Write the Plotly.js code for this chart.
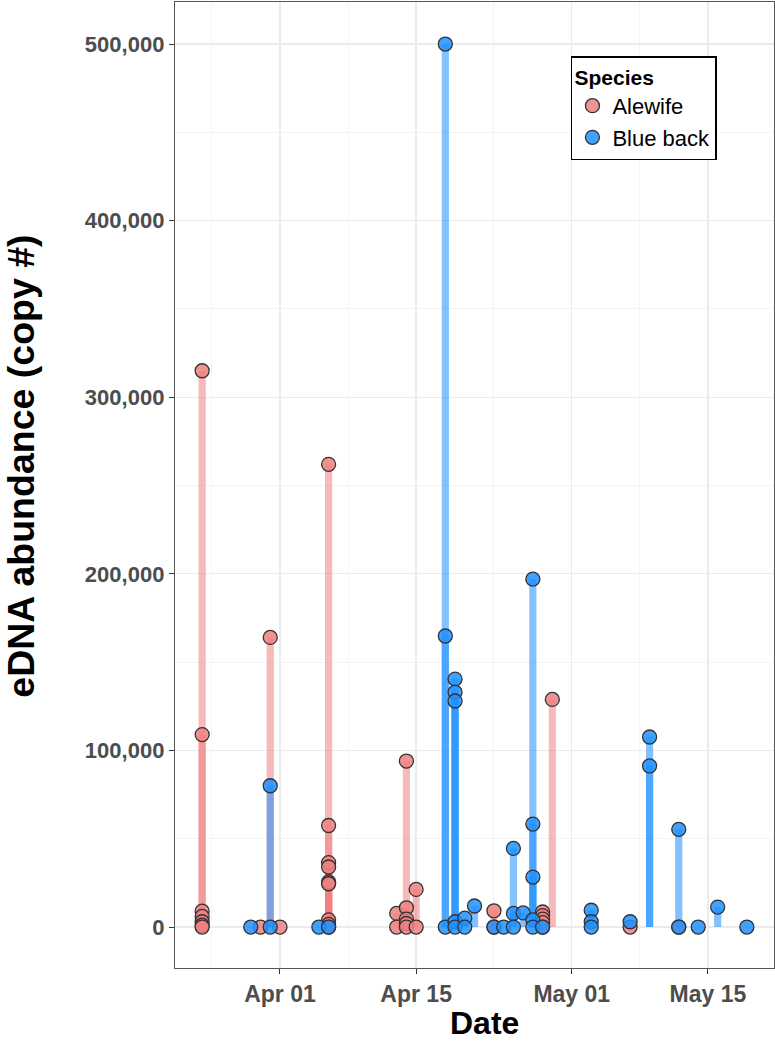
<!DOCTYPE html>
<html>
<head>
<meta charset="utf-8">
<script src="https://cdn.plot.ly/plotly-3.0.1.min.js"></script>
<style>html,body{margin:0;padding:0;background:#fff;}#chart{width:775px;height:1042px;}</style>
</head>
<body>
<div id="chart"></div>
<script>
// ---- data ----
const alewifeDates = [
  '2017-03-24','2017-03-24','2017-03-24','2017-03-24','2017-03-24','2017-03-24','2017-03-24',
  '2017-03-30','2017-03-31','2017-04-01',
  '2017-04-06','2017-04-06','2017-04-06','2017-04-06','2017-04-06','2017-04-06','2017-04-06','2017-04-06','2017-04-06',
  '2017-04-13','2017-04-13',
  '2017-04-14','2017-04-14','2017-04-14','2017-04-14','2017-04-14',
  '2017-04-15','2017-04-15',
  '2017-04-23','2017-04-23',
  '2017-04-28','2017-04-28','2017-04-28','2017-04-28','2017-04-28',
  '2017-04-29','2017-05-07','2017-05-12'
];
const alewifeValues = [
  315000,109000,9000,6000,3000,1000,0,
  0,164000,0,
  262000,57500,36500,34000,25500,24500,4000,1500,0,
  7700,0,
  94000,10900,4500,2000,0,
  21300,0,
  9200,0,
  8500,6500,4500,2500,0,
  128900,0,0
];
const bluebackDates = [
  '2017-03-29','2017-03-31','2017-03-31','2017-04-05','2017-04-06',
  '2017-04-18','2017-04-18','2017-04-18',
  '2017-04-19','2017-04-19','2017-04-19','2017-04-19','2017-04-19',
  '2017-04-20','2017-04-20','2017-04-21','2017-04-23','2017-04-24',
  '2017-04-25','2017-04-25','2017-04-25','2017-04-26',
  '2017-04-27','2017-04-27','2017-04-27','2017-04-27','2017-04-27',
  '2017-04-28',
  '2017-05-03','2017-05-03','2017-05-03','2017-05-07',
  '2017-05-09','2017-05-09','2017-05-12','2017-05-12','2017-05-14','2017-05-16','2017-05-19'
];
const bluebackValues = [
  0,80000,0,0,0,
  500000,164800,0,
  140400,133000,128000,3000,0,
  5000,0,11900,0,0,
  44500,7700,0,8000,
  197000,58300,28300,4000,0,
  0,
  9500,3000,0,3000,
  107600,91200,55300,0,0,11300,0
];
const speciesNames = ['Alewife','Blue back'];
const xTickVals = ['2017-04-01','2017-04-15','2017-05-01','2017-05-15'];
const xTickText = ['Apr 01','Apr 15','May 01','May 15'];
const xMinorVals = ['2017-03-25','2017-04-08','2017-04-23','2017-05-08'];
const yTickVals = [0,100000,200000,300000,400000,500000];
const yMinorVals = [50000,150000,250000,350000,450000];
const xTitle = 'Date';
const yTitle = 'eDNA abundance (copy #)';
const legendTitle = 'Species';

// ---- styles ----
const FONT = 'Liberation Sans, Arial, Helvetica, sans-serif';
const stemWidthMs = 0.74 * 24 * 3600 * 1000;
const colA = [240,128,128], colB = [30,144,255];
const rgba = (c,a) => `rgba(${c[0]},${c[1]},${c[2]},${a})`;

function stems(x, y, c) {
  return {type:'bar', x:x, y:y, width:stemWidthMs, showlegend:false, hoverinfo:'skip',
    marker:{color:rgba(c,0.55), line:{width:0}}};
}
function pts(x, y, c, name) {
  return {type:'scatter', mode:'markers', x:x, y:y, name:name,
    marker:{size:14, color:rgba(c,0.85), line:{color:'#333333', width:1.3}}};
}

const data = [
  stems(alewifeDates, alewifeValues, colA),
  stems(bluebackDates, bluebackValues, colB),
  pts(alewifeDates, alewifeValues, colA, speciesNames[0]),
  pts(bluebackDates, bluebackValues, colB, speciesNames[1])
];

const layout = {
  width:775, height:1042,
  margin:{l:175, r:1, t:2, b:74},
  paper_bgcolor:'#ffffff', plot_bgcolor:'#ffffff',
  barmode:'overlay',
  font:{family:FONT, color:'#000'},
  showlegend:true,
  legend:{x:0.661, y:0.944, xanchor:'left', yanchor:'top',
    bgcolor:'#ffffff', bordercolor:'#000000', borderwidth:1.5,
    title:{text:'<b>' + legendTitle + '</b>', font:{family:FONT, size:21, color:'#000'}},
    font:{family:FONT, size:22, color:'#000'}, itemsizing:'trace', tracegroupgap:0},
  xaxis:{type:'date', range:['2017-03-21 05:00','2017-05-21 19:00'],
    tickmode:'array', tickvals:xTickVals, ticktext:xTickText,
    tickfont:{family:FONT, size:23, color:'#4d4d4d', weight:'bold'},
    ticks:'outside', ticklen:5, tickcolor:'#333', tickwidth:1,
    showgrid:true, gridcolor:'#ebebeb', gridwidth:1.3,
    minor:{tickmode:'array', tickvals:xMinorVals, showgrid:true, gridcolor:'#f1f1f1', gridwidth:0.8, ticks:''},
    showline:true, mirror:true, linecolor:'#555', linewidth:1.2, zeroline:false},
  yaxis:{range:[-23200,523800],
    tickmode:'array', tickvals:yTickVals, tickformat:',d',
    tickfont:{family:FONT, size:22, color:'#4d4d4d', weight:'bold'},
    ticks:'outside', ticklen:5, tickcolor:'#333', tickwidth:1,
    showgrid:true, gridcolor:'#ebebeb', gridwidth:1.3,
    minor:{tickmode:'array', tickvals:yMinorVals, showgrid:true, gridcolor:'#f1f1f1', gridwidth:0.8, ticks:''},
    showline:true, mirror:true, linecolor:'#555', linewidth:1.2, zeroline:false},
  annotations:[
    {text:'<b>' + xTitle + '</b>', xref:'paper', yref:'paper', x:0.516, y:-0.057,
     xanchor:'center', yanchor:'middle', showarrow:false, font:{family:FONT, size:32, color:'#000'}},
    {text:'<b>' + yTitle + '</b>', xref:'paper', yref:'paper', x:-0.257, y:0.519, textangle:-90,
     xanchor:'center', yanchor:'middle', showarrow:false, font:{family:FONT, size:37.5, color:'#000'}}
  ]
};

Plotly.newPlot('chart', data, layout, {displayModeBar:false, staticPlot:true});
</script>
</body>
</html>
